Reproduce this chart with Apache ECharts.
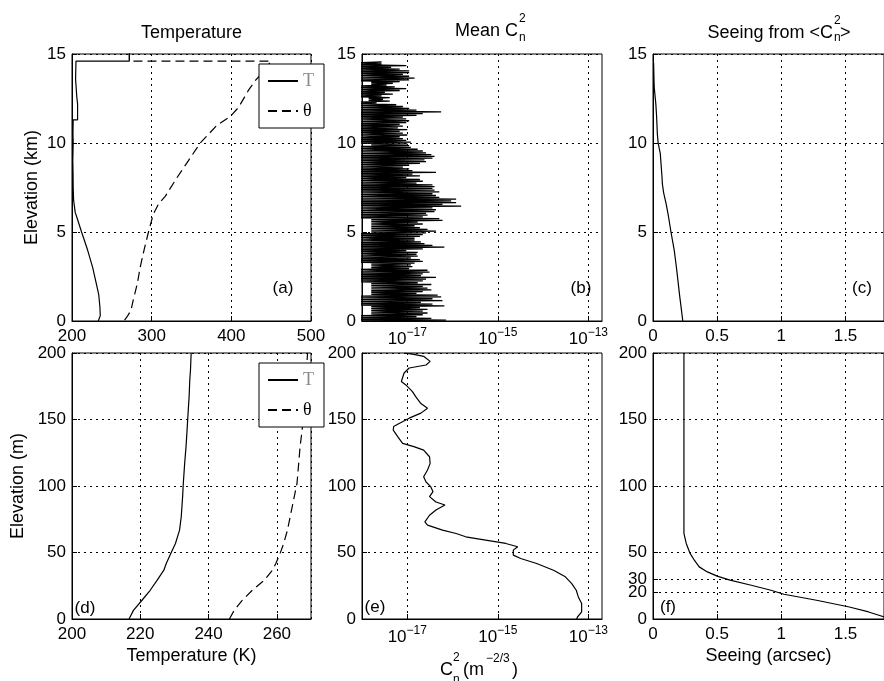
<!DOCTYPE html>
<html><head><meta charset="utf-8">
<script src="https://cdn.jsdelivr.net/npm/echarts@6/dist/echarts.min.js"></script>
<style>html,body{margin:0;padding:0;background:#fff}#chart{width:884px;height:681px}</style>
</head><body><div id="chart"></div>
<script>
// ---------- (a) Temperature profile, km ----------
const tempAltKm = [0, 0.3, 0.8, 1.5, 2.0, 3.0, 4.0, 5.0, 5.7, 6.1, 6.8, 7.5, 8.3, 9.0, 10.0, 10.5, 11.3, 11.3, 12.2, 12.6, 13.6, 14.6, 14.6, 15.5];
const tempK = [233, 235.5, 235, 233.5, 231, 226, 219.5, 212, 207, 204, 202, 201.5, 201.3, 201, 201.5, 201.2, 201.5, 207, 207, 206, 204.5, 205, 272, 272];
const thetaAltKm = [0.05, 0.3, 0.6, 1.2, 2.1, 3.0, 4.0, 5.0, 6.0, 6.6, 7.0, 8.0, 9.0, 10.0, 11.0, 11.5, 12.0, 13.0, 13.5, 14.0, 14.6, 14.6, 15.5];
const thetaK = [266, 270, 274, 277, 282, 285.5, 290.5, 296, 302, 309, 317, 331, 346, 361, 382, 399, 409, 422, 430, 440, 450, 272, 272];

// ---------- (b) Mean Cn2, km (troughs at k*step, peaks at k*step+step/2) ----------
const CN2_STEP_KM = 0.1;
const cn2Troughs = [
 8e-19,8e-19,8e-19,8e-19, 1.6e-18,1.6e-18,1.6e-18,1.6e-18,1.6e-18, 8e-19,8e-19,8e-19,8e-19,8e-19,8e-19,
 1.6e-18,1.6e-18,1.6e-18,1.6e-18,1.6e-18,1.6e-18,1.6e-18, 8e-19,8e-19,8e-19,8e-19,8e-19,8e-19,8e-19,8e-19,
 1.6e-18,1.6e-18,1.6e-18, 8e-19,8e-19,8e-19,8e-19,8e-19,8e-19,8e-19,8e-19,8e-19,8e-19,8e-19,8e-19,8e-19,8e-19,8e-19,8e-19,8e-19,
 1.6e-18,1.6e-18,1.6e-18,1.6e-18,1.6e-18,1.6e-18,1.6e-18,1.6e-18,
 8e-19,8e-19,8e-19,8e-19,8e-19,8e-19,8e-19,8e-19,8e-19,8e-19,8e-19,8e-19,8e-19,8e-19,8e-19,8e-19,8e-19,8e-19,8e-19,8e-19,
 8e-19,8e-19,8e-19,8e-19,8e-19,8e-19,8e-19,8e-19,8e-19,8e-19,8e-19,8e-19,8e-19,8e-19,8e-19,8e-19,8e-19,8e-19,8e-19,8e-19,8e-19,
 1.6e-18,
 8e-19,8e-19,8e-19,8e-19,8e-19,8e-19,8e-19,8e-19,8e-19,8e-19,8e-19,8e-19,8e-19,8e-19,8e-19,8e-19,8e-19,8e-19,8e-19,8e-19,8e-19,8e-19,8e-19,8e-19,
 1.4e-18,1.4e-18,
 8e-19,8e-19,8e-19,8e-19,8e-19,8e-19,8e-19,
 1.6e-18,1.6e-18,
 8e-19,8e-19,8e-19,8e-19,8e-19,8e-19,8e-19,8e-19,8e-19,8e-19,8e-19
];
const cn2Peaks = [
 7.2e-17,3.4e-17,1.6e-17,2.2e-17,2.8e-17,2.2e-17,2.8e-17,1.9e-17,6.6e-17,3.6e-17,
 2.0e-17,6.0e-17,3.6e-17,5.6e-17,4.7e-17,1.6e-17,2.2e-17,3.4e-17,2.8e-17,2.2e-17,
 3.4e-17,1.7e-17,2.2e-17,2.6e-17,4.3e-17,2.0e-17,2.2e-17,3.1e-17,2.8e-17,1.1e-17,
 1.3e-17,1.2e-17,1.45e-17,2.2e-17,1.9e-17,1.2e-17,1.7e-17,1.6e-17,1.7e-17,9.5e-18,
 2.2e-17,6.6e-17,3.6e-17,2.4e-17,2.0e-17,1.45e-17,1.45e-17,1.9e-17,2.2e-17,2.6e-17,
 4.3e-17,2.8e-17,1.9e-17,1.45e-17,2.2e-17,1.7e-17,6.0e-17,5.1e-17,2.2e-17,2.8e-17,
 2.6e-17,4.0e-17,4.3e-17,3.6e-17,1.55e-16,6.0e-17,1.2e-16,9.3e-17,1.2e-16,5.1e-17,
 4.3e-17,3.6e-17,5.1e-17,4.0e-17,3.6e-17,4.0e-17,3.6e-17,1.6e-17,2.2e-17,1.9e-17,
 9.5e-18,1.9e-17,1.3e-17,4.3e-17,1.3e-17,1.1e-17,8.0e-18,1.1e-17,1.9e-17,2.6e-17,
 2.4e-17,3.6e-17,4.0e-17,3.4e-17,2.6e-17,2.2e-17,1.7e-17,1.2e-17,1.1e-17,1.0e-17,
 1.2e-17,9.5e-18,8.0e-18,6.8e-18,1.0e-17,8.0e-18,6.8e-18,1.0e-17,6.2e-18,8.0e-18,
 6.8e-18,9.5e-18,1.1e-17,9.5e-18,8.0e-18,1.6e-17,2.2e-17,5.6e-17,1.6e-17,1.1e-17,
 8.0e-18,5.7e-18,2.1e-18,4.1e-18,2.9e-18,4.1e-18,2.7e-18,4.8e-18,3.2e-18,6.8e-18,
 9.5e-18,5.3e-18,3.5e-18,4.8e-18,6.8e-18,1.1e-17,1.45e-17,1.1e-17,8.0e-18,1.1e-17,
 1.1e-17,6.8e-18,4.4e-18,9.5e-18,2.7e-18,2.7e-18
];
const CN2_TICKS = [1e-17, 1e-15, 1e-13];

// ---------- (c) Seeing from <Cn2>, km ----------
const seeingAltKm = [0, 0.6, 1.4, 2.1, 3.05, 4.0, 5.0, 5.9, 6.6, 7.2, 7.7, 8.1, 8.7, 9.4, 10, 10.5, 11.5, 12.2, 13.1, 13.5, 14.4, 14.5];
const seeingKmArcsec = [0.232, 0.222, 0.208, 0.197, 0.182, 0.165, 0.14, 0.12, 0.102, 0.083, 0.073, 0.07, 0.064, 0.057, 0.04, 0.034, 0.028, 0.022, 0.01, 0.008, 0.005, 0.005];

// ---------- (d) Temperature, lowest 200 m ----------
const lowTAltM = [0, 6.5, 14.1, 21.6, 29.1, 36.7, 41.7, 49.7, 56.8, 66.8, 76.9, 92, 102, 117, 129.6, 142, 155, 167, 180, 187, 200];
const lowT = [216.7, 218, 220.5, 222.9, 224.9, 226.9, 227.6, 229, 230.3, 231.5, 232, 232.4, 232.6, 233, 233.4, 233.7, 234, 234.3, 234.5, 234.7, 234.9];
const lowThetaAltM = [0, 6.5, 14.1, 21.6, 29.1, 36.7, 41.7, 49.7, 56.8, 66.8, 76.9, 92, 102, 117, 129.6, 142, 155, 170, 185, 200];
const lowTheta = [246.1, 247.5, 249.9, 252.8, 256.3, 258.7, 259.7, 261, 262, 263.1, 263.9, 265.1, 265.9, 266.4, 266.8, 267.4, 267.8, 268.2, 268.6, 269];

// ---------- (e) Cn2, lowest 200 m ----------
const cn2AltM = [200, 199, 197.5, 193.7, 191, 188.7, 185, 178.6, 176, 171, 167, 162, 158.5, 157.3, 154.8, 151, 147, 144.7, 142, 137, 132, 129.6, 127, 122, 117, 112, 107, 103, 99.5, 95.7, 92, 88, 85.7, 82, 78, 73, 70.6, 66.8, 64.3, 61.8, 59.3, 56.8, 54.3, 51.8, 48, 45.5, 41.7, 36.7, 31.7, 26.6, 21.6, 16.6, 11.6, 5.3, 1.5, 0];
const cn2LowVal = [8.5e-18, 1.4e-17, 2.3e-17, 3.2e-17, 2.6e-17, 1.1e-17, 8.5e-18, 7.4e-18, 9.3e-18, 1.3e-17, 1.55e-17, 2.0e-17, 2.8e-17, 2.95e-17, 2.0e-17, 1.1e-17, 6.6e-18, 5.0e-18, 4.9e-18, 6.2e-18, 7.9e-18, 1.4e-17, 2.3e-17, 3.1e-17, 3.2e-17, 2.8e-17, 2.3e-17, 2.6e-17, 3.3e-17, 3.7e-17, 3.1e-17, 4.3e-17, 6.8e-17, 4.3e-17, 3.1e-17, 2.45e-17, 2.8e-17, 6.0e-17, 1.2e-16, 1.95e-16, 5.4e-16, 1.5e-15, 2.75e-15, 2.2e-15, 2.2e-15, 3.2e-15, 7.2e-15, 1.7e-14, 3.1e-14, 4.3e-14, 5.4e-14, 6.0e-14, 7.1e-14, 7.1e-14, 5.75e-14, 5.5e-14];

// ---------- (f) Seeing, lowest 200 m ----------
const seeingAltM = [200, 64.3, 56.8, 49.3, 44.2, 39.2, 35.4, 32.2, 29.2, 25.4, 21.6, 18.6, 14.1, 9.0, 5.3, 2.8, 0];
const seeingMArcsec = [0.241, 0.241, 0.259, 0.289, 0.322, 0.36, 0.424, 0.5, 0.6, 0.766, 0.919, 1.02, 1.274, 1.53, 1.68, 1.76, 1.85];
const SEEING_M_TICKS = [0, 20, 30, 50, 100, 150, 200];

// ---------- chart ----------
const FONT = "'Liberation Sans', Arial, Helvetica, sans-serif";
const SERIF = "'Liberation Serif', 'DejaVu Serif', serif";
const zip = (xs, ys) => xs.map((x, i) => [x, ys[i]]);

const cn2Profile = [];
cn2Peaks.forEach((p, k) => {
  cn2Profile.push([cn2Troughs[k], k * CN2_STEP_KM]);
  cn2Profile.push([p, k * CN2_STEP_KM + CN2_STEP_KM / 2]);
});

function merge(base, extra) {
  const out = Object.assign({}, base);
  for (const k in extra) {
    const v = extra[k];
    if (v && typeof v === 'object' && !Array.isArray(v) && base[k] && typeof base[k] === 'object') out[k] = Object.assign({}, base[k], v);
    else out[k] = v;
  }
  return out;
}
const baseAxis = {
  type: 'value',
  axisLine: {show: true, onZero: false, lineStyle: {color: '#000', width: 1}},
  axisTick: {show: true, inside: true, length: 5, lineStyle: {color: '#000', width: 1}},
  axisLabel: {color: '#000', fontSize: 17, fontFamily: FONT, margin: 7},
  splitLine: {show: true, lineStyle: {color: '#000', width: 1, type: [2, 4]}},
  nameLocation: 'middle',
  nameTextStyle: {color: '#000', fontSize: 18, fontFamily: FONT}
};
const logLabel = {
  customValues: CN2_TICKS,
  formatter: v => '{b|10}{s|\u2212' + Math.round(-Math.log10(v)) + '}',
  rich: {
    b: {fontSize: 17, fontFamily: FONT, color: '#000'},
    s: {fontSize: 12, fontFamily: FONT, color: '#000', padding: [0, 0, 13, 0]}
  },
  margin: 6
};
const logAxis = gi => merge(baseAxis, {gridIndex: gi, type: 'log', logBase: 10, min: 1e-18, max: 2e-13,
  axisTick: {customValues: CN2_TICKS}, axisLabel: logLabel});

const grid = [
  {left: 72, top: 54, width: 239, height: 267},
  {left: 362, top: 54, width: 240, height: 267},
  {left: 653, top: 54, width: 240, height: 267},
  {left: 72, top: 353, width: 239, height: 266},
  {left: 362, top: 353, width: 240, height: 266},
  {left: 653, top: 353, width: 240, height: 266}
].map(g => Object.assign({show: true, borderColor: '#000', borderWidth: 1, backgroundColor: '#fff'}, g));

const xAxis = [
  merge(baseAxis, {gridIndex: 0, min: 200, max: 500, interval: 100}),
  logAxis(1),
  merge(baseAxis, {gridIndex: 2, min: 0, max: 1.8, interval: 0.5, axisLabel: {showMaxLabel: false}}),
  merge(baseAxis, {gridIndex: 3, min: 200, max: 270, interval: 20, axisLabel: {showMaxLabel: false}, name: 'Temperature (K)', nameGap: 28}),
  logAxis(4),
  merge(baseAxis, {gridIndex: 5, min: 0, max: 1.8, interval: 0.5, axisLabel: {showMaxLabel: false}, name: 'Seeing (arcsec)', nameGap: 28})
];
const yAxis = [
  merge(baseAxis, {gridIndex: 0, min: 0, max: 15, interval: 5, name: 'Elevation (km)', nameGap: 31, axisLabel: {margin: 6}}),
  merge(baseAxis, {gridIndex: 1, min: 0, max: 15, interval: 5, axisLabel: {margin: 6}}),
  merge(baseAxis, {gridIndex: 2, min: 0, max: 15, interval: 5, axisLabel: {margin: 6}}),
  merge(baseAxis, {gridIndex: 3, min: 0, max: 200, interval: 50, name: 'Elevation (m)', nameGap: 45, axisLabel: {margin: 6}}),
  merge(baseAxis, {gridIndex: 4, min: 0, max: 200, interval: 50, axisLabel: {margin: 6}}),
  merge(baseAxis, {gridIndex: 5, min: 0, max: 200, axisLabel: {margin: 6, customValues: SEEING_M_TICKS}, axisTick: {customValues: SEEING_M_TICKS}})
];

const lineBase = {type: 'line', symbol: 'none', showSymbol: false, silent: true, clip: true, animation: false,
  itemStyle: {color: '#000'}, lineStyle: {color: '#000', width: 1.2}};
const dashed = {color: '#000', width: 1.2, type: [9, 5]};
const series = [
  Object.assign({}, lineBase, {name: 'T', xAxisIndex: 0, yAxisIndex: 0, data: zip(tempK, tempAltKm)}),
  Object.assign({}, lineBase, {name: '\u03b8', xAxisIndex: 0, yAxisIndex: 0, data: zip(thetaK, thetaAltKm), lineStyle: dashed}),
  Object.assign({}, lineBase, {name: 'cn2', xAxisIndex: 1, yAxisIndex: 1, data: cn2Profile, lineStyle: {color: '#000', width: 1.3}}),
  Object.assign({}, lineBase, {name: 'seeingKm', xAxisIndex: 2, yAxisIndex: 2, data: zip(seeingKmArcsec, seeingAltKm)}),
  Object.assign({}, lineBase, {name: 'T', xAxisIndex: 3, yAxisIndex: 3, data: zip(lowT, lowTAltM)}),
  Object.assign({}, lineBase, {name: '\u03b8', xAxisIndex: 3, yAxisIndex: 3, data: zip(lowTheta, lowThetaAltM), lineStyle: dashed}),
  Object.assign({}, lineBase, {name: 'cn2Low', xAxisIndex: 4, yAxisIndex: 4, data: zip(cn2LowVal, cn2AltM)}),
  Object.assign({}, lineBase, {name: 'seeingM', xAxisIndex: 5, yAxisIndex: 5, data: zip(seeingMArcsec, seeingAltM)})
];

const legendBase = {
  data: ['T', '\u03b8'], orient: 'vertical', left: 259, padding: [8, 10, 8, 8],
  itemWidth: 30, itemHeight: 14, itemGap: 12, borderColor: '#000', borderWidth: 1,
  backgroundColor: '#fff', selectedMode: false,
  itemStyle: {color: 'rgba(0,0,0,0)', borderWidth: 0, opacity: 0},
  formatter: n => n === 'T' ? '{g|T}' : '{k|\u03b8}',
  textStyle: {fontFamily: SERIF, fontSize: 18, color: '#000',
    rich: {g: {fontFamily: SERIF, fontSize: 18, color: '#8a8a8a'}, k: {fontFamily: SERIF, fontSize: 18, color: '#000'}}}
};
const legend = [Object.assign({}, legendBase, {top: 64}), Object.assign({}, legendBase, {top: 363})];

function tx(text, x, y, size, align) {
  return {type: 'text', x: x, y: y, z: 100, silent: true,
    style: {text: text, fontSize: size, fontFamily: FONT, fill: '#000',
      align: align, verticalAlign: 'middle', textAlign: align, textVerticalAlign: 'middle'}};
}
const graphic = [
  tx('Temperature', 191.5, 33, 18, 'center'),
  tx('Mean C', 518, 31, 18, 'right'), tx('2', 519, 19, 12, 'left'), tx('n', 519, 38, 12, 'left'),
  tx('Seeing from <C', 833, 33, 18, 'right'), tx('2', 834, 21, 12, 'left'), tx('n', 834, 38, 12, 'left'), tx('>', 840, 33, 18, 'left'),
  tx('(a)', 283, 288, 17, 'center'), tx('(b)', 581, 288, 17, 'center'), tx('(c)', 862, 288, 17, 'center'),
  tx('(d)', 85, 608, 17, 'center'), tx('(e)', 375, 607, 17, 'center'), tx('(f)', 668, 607, 17, 'center'),
  tx('C', 440, 670, 18, 'left'), tx('2', 453, 658, 12, 'left'), tx('n', 453, 680, 12, 'left'),
  tx('(m', 463, 670, 18, 'left'), tx('\u22122/3', 486, 659, 12, 'left'), tx(')', 512, 670, 18, 'left')
];

const chart = echarts.init(document.getElementById('chart'), null, {renderer: 'canvas'});
chart.setOption({animation: false, backgroundColor: '#fff', grid, xAxis, yAxis, series, legend, graphic});
</script></body></html>
